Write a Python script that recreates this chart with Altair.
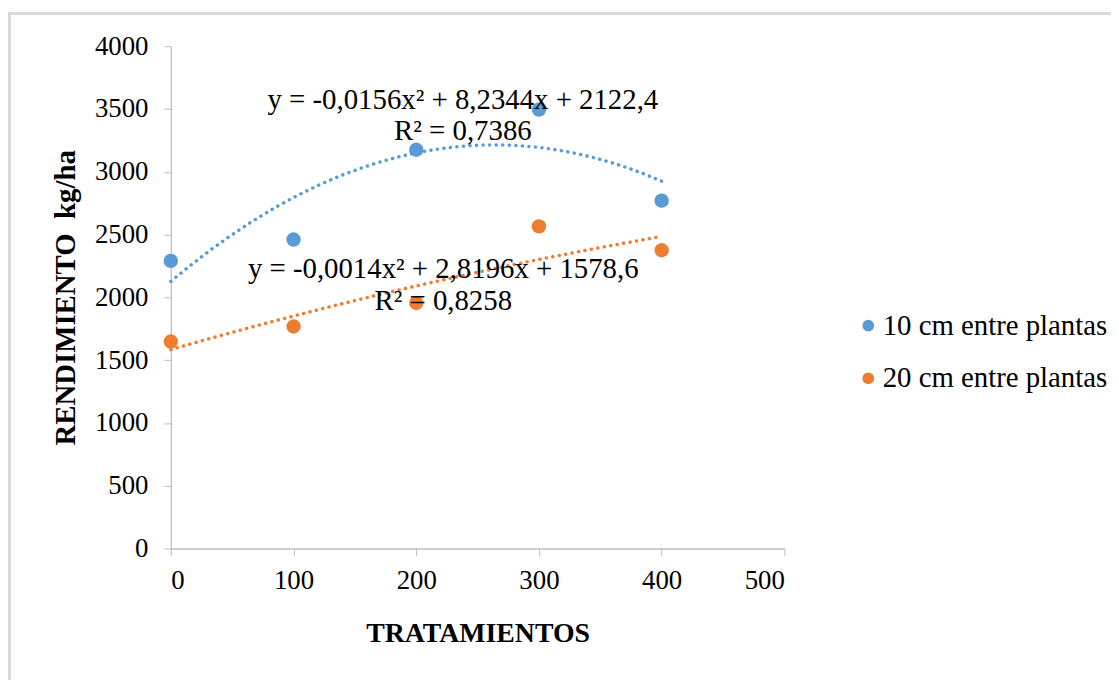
import altair as alt
import pandas as pd

# ---- data ----
tratamientos = [0, 100, 200, 300, 400]
serie_10cm = [2290, 2460, 3175, 3495, 2770]
serie_20cm = [1648, 1768, 1955, 2565, 2375]
series_names = ["10 cm entre plantas", "20 cm entre plantas"]
series_colors = ["#5B9BD5", "#ED7D31"]

eq_text = ["y = -0,0156x² + 8,2344x + 2122,4", "R² = 0,7386",
           "y = -0,0014x² + 2,8196x + 1578,6", "R² = 0,8258"]
eq_x = [238, 238, 222, 222]
eq_y = [3572, 3327, 2226, 1972]

x_ticks = [0, 100, 200, 300, 400, 500]
y_ticks = [0, 500, 1000, 1500, 2000, 2500, 3000, 3500, 4000]

rows = []
for name, vals in zip(series_names, [serie_10cm, serie_20cm]):
    for t, v in zip(tratamientos, vals):
        rows.append({"tratamiento": t, "rendimiento": v, "serie": name})
df = pd.DataFrame(rows)
df_eq = pd.DataFrame({"x": eq_x, "y": eq_y, "text": eq_text})

FONT = "Liberation Serif"
W, H = 618, 506

xs = alt.Scale(domain=[0, 500], nice=False)
ys = alt.Scale(domain=[0, 4000], nice=False)
cs = alt.Scale(domain=series_names, range=series_colors)

x_axis = alt.Axis(values=x_ticks, title="TRATAMIENTOS", grid=False, format="d",
                  labelFontSize=27, labelFont=FONT, labelColor="black",
                  labelPadding=12, tickSize=7, tickColor="#bfbfbf",
                  domainColor="#bfbfbf", domainWidth=1.3,
                  titleFont=FONT, titleFontSize=28, titleFontWeight="bold",
                  titleColor="black", titlePadding=27)
y_axis = alt.Axis(values=y_ticks, title="RENDIMIENTO\u00a0\u00a0kg/ha", grid=False, format="d",
                  labelFontSize=27, labelFont=FONT, labelColor="black",
                  labelPadding=16, tickSize=7, tickColor="#bfbfbf",
                  domainColor="#bfbfbf", domainWidth=1.3,
                  titleFont=FONT, titleFontSize=29, titleFontWeight="bold",
                  titleColor="black", titlePadding=14)

base = alt.Chart(df)

border = alt.Chart(df).mark_rect(fill=None, stroke="#d9d9d9", strokeWidth=3, clip=False).encode(
    x=alt.value(-162.5), x2=alt.value(W + 400), y=alt.value(-33), y2=alt.value(H + 300)
)

lines = base.transform_regression(
    "tratamiento", "rendimiento", method="poly", order=2, groupby=["serie"], extent=[0, 400]
).mark_line(strokeDash=[0.1, 6.5], strokeWidth=3.5, strokeCap="round").encode(
    x=alt.X("tratamiento:Q", scale=xs, axis=x_axis),
    y=alt.Y("rendimiento:Q", scale=ys, axis=y_axis),
    stroke=alt.Stroke("serie:N", scale=cs, legend=None),
)

points = base.mark_circle(size=210, opacity=1).encode(
    x=alt.X("tratamiento:Q", scale=xs),
    y=alt.Y("rendimiento:Q", scale=ys),
    color=alt.Color("serie:N", scale=cs, legend=alt.Legend(
        title=None, orient="none", legendX=688, legendY=267,
        labelFont=FONT, labelFontSize=29, labelColor="black", labelLimit=0,
        symbolType="circle", symbolSize=140, symbolStrokeWidth=0,
        labelOffset=0, rowPadding=23)),
)

texts = alt.Chart(df_eq).mark_text(font=FONT, fontSize=29, color="black").encode(
    x=alt.X("x:Q", scale=xs), y=alt.Y("y:Q", scale=ys), text="text:N"
)

chart = alt.layer(border, lines, points, texts).properties(
    width=W, height=H,
    autosize=alt.AutoSizeParams(type="none"),
    padding={"left": 164, "top": 36, "right": 329, "bottom": 130},
).resolve_scale(color="independent", stroke="independent").configure_view(stroke=None)

chart.save("out.html", embed_options={"renderer": "svg", "actions": False})
